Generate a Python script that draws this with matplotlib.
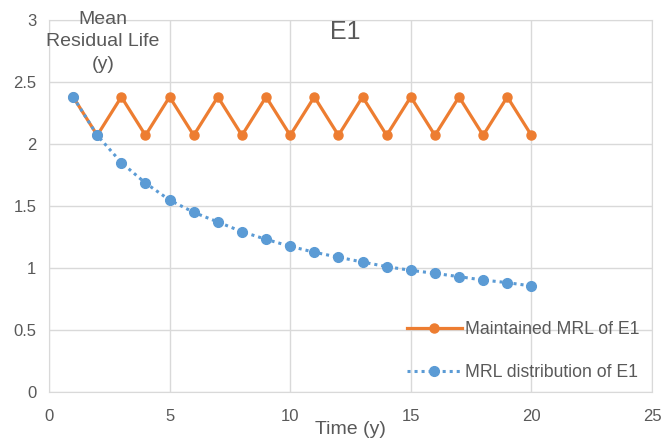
import matplotlib
matplotlib.use("Agg")
import matplotlib.pyplot as plt

years = list(range(1, 21))
maintained_mrl = [2.38, 2.07] * 10
mrl_distribution = [2.38, 2.07, 1.85, 1.685, 1.548, 1.449, 1.371, 1.293, 1.231, 1.175,
                    1.127, 1.087, 1.048, 1.011, 0.981, 0.957, 0.930, 0.903, 0.882, 0.855]

x_ticks = [0, 5, 10, 15, 20, 25]
y_ticks = [0, 0.5, 1, 1.5, 2, 2.5, 3]
y_tick_labels = ["0", "0.5", "1", "1.5", "2", "2.5", "3"]

plt.rcParams["font.family"] = ["Liberation Sans", "DejaVu Sans"]
text_gray = "#595959"
grid_gray = "#d9d9d9"

fig = plt.figure(figsize=(6.61, 4.41), dpi=100)
ax = fig.add_axes([49 / 661, 1 - 392 / 441, (652 - 49) / 661, (392 - 20) / 441])

ax.plot(years, maintained_mrl, color="#ED7D31", linewidth=2.3, marker="o",
        markersize=6.5, label="Maintained MRL of E1", zorder=3)
ax.plot(years, mrl_distribution, color="#5B9BD5", linewidth=2.2, linestyle=(0, (1, 1.3)),
        marker="o", markersize=7, label="MRL distribution of E1", zorder=4)

ax.set_xlim(0, 25)
ax.set_ylim(0, 3)
ax.set_xticks(x_ticks)
ax.set_yticks(y_ticks)
ax.set_yticklabels(y_tick_labels)
ax.tick_params(length=0, labelsize=12, colors=text_gray)
ax.tick_params(axis="x", pad=12)
ax.tick_params(axis="y", pad=9)
ax.grid(True, color=grid_gray, linewidth=1)
ax.set_axisbelow(True)
for s in ax.spines.values():
    s.set_color(grid_gray)

fig.text(345 / 661, 1 - 32 / 441, "E1", fontsize=18, color=text_gray,
         ha="center", va="center")
fig.text(103 / 661, 1 - 42 / 441, "Mean\nResidual Life\n(y)", fontsize=14,
         color=text_gray, ha="center", va="center", multialignment="center",
         linespacing=1.45)
fig.text(350 / 661, 1 - 429 / 441, "Time (y)", fontsize=14, color=text_gray,
         ha="center", va="center")

leg = ax.legend(loc="center left", bbox_to_anchor=(407 / 661, 1 - 351 / 441),
                bbox_transform=fig.transFigure, frameon=False, fontsize=12.7,
                handlelength=3.1, handletextpad=0.2, labelspacing=1.5,
                borderpad=0, borderaxespad=0)
for t in leg.get_texts():
    t.set_color(text_gray)

fig.savefig("out.png", dpi=100)
